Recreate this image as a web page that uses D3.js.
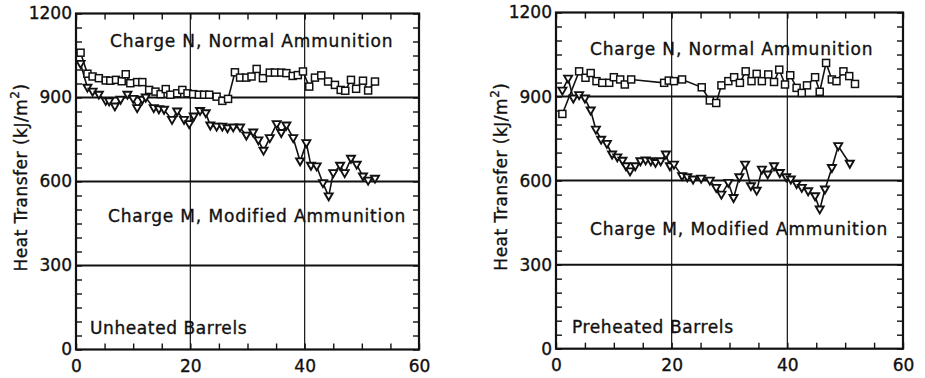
<!DOCTYPE html>
<html>
<head>
<meta charset="utf-8">
<script src="https://cdn.jsdelivr.net/npm/d3@7"></script>
<style>
  body { margin: 0; background: #fff; }
  text { font-family: "DejaVu Sans", "Liberation Sans", Arial, sans-serif; fill: #111; stroke: #111; stroke-width: 0.35px; }
</style>
</head>
<body>
<svg id="chart" width="925" height="378"></svg>
<script>
// rounds fired (x) and heat transfer (kJ/m^2)
const unheatedRoundsN = [0.8, 2.0, 2.9, 4.0, 5.2, 6.0, 7.0, 8.0, 8.7, 9.5, 10.7, 11.6, 12.8, 13.9, 14.8, 15.7, 16.5, 17.7, 18.6, 19.5, 20.5, 21.5, 22.4, 23.3, 24.6, 25.6, 26.6, 27.8, 28.7, 29.8, 30.7, 31.6, 32.7, 33.9, 34.8, 35.9, 36.8, 37.9, 38.8, 39.7, 40.8, 41.8, 42.9, 44.1, 45.3, 46.3, 47.1, 48.1, 49.0, 50.2, 51.1, 52.3];
const unheatedN = [1060, 985, 975, 969, 961, 960, 963, 958, 983, 951, 955, 955, 927, 921, 912, 930, 910, 915, 927, 915, 912, 910, 910, 910, 903, 888, 895, 990, 971, 971, 975, 1002, 969, 989, 989, 989, 987, 977, 980, 993, 939, 971, 979, 957, 945, 927, 924, 963, 931, 960, 925, 957];

const unheatedRoundsM = [0.8, 2.0, 2.9, 4.0, 5.2, 5.8, 6.8, 7.8, 9.0, 10.0, 10.7, 11.6, 12.2, 13.6, 14.5, 15.4, 16.8, 17.7, 18.9, 19.8, 20.6, 21.7, 22.7, 23.5, 24.6, 25.6, 26.5, 27.5, 28.7, 29.8, 31.0, 31.9, 32.8, 33.9, 35.1, 35.9, 36.8, 38.0, 39.2, 40.3, 41.1, 42.1, 43.2, 44.2, 45.0, 46.2, 47.0, 48.1, 49.1, 50.2, 51.1, 52.3];
const unheatedM = [1020, 935, 921, 910, 888, 886, 868, 892, 910, 895, 862, 892, 900, 862, 858, 856, 820, 850, 820, 805, 832, 852, 844, 800, 796, 796, 790, 793, 793, 764, 775, 747, 710, 755, 805, 773, 800, 755, 672, 737, 656, 654, 594, 547, 630, 656, 630, 681, 660, 618, 603, 610];

const preheatedRoundsN = [1.1, 4.0, 5.1, 6.0, 7.0, 8.0, 9.2, 10.0, 11.1, 11.9, 13.0, 18.7, 19.5, 20.4, 21.8, 25.2, 26.6, 27.7, 28.6, 29.8, 30.8, 31.8, 32.8, 33.8, 34.7, 35.6, 36.7, 37.7, 38.6, 39.6, 40.5, 41.6, 42.5, 43.4, 44.8, 45.6, 46.7, 47.7, 48.5, 49.7, 50.7, 51.7];
const preheatedN = [838, 990, 967, 984, 955, 949, 949, 969, 961, 943, 961, 949, 957, 955, 961, 933, 886, 877, 940, 955, 969, 949, 990, 955, 981, 955, 979, 952, 996, 943, 976, 931, 913, 940, 969, 917, 1020, 961, 955, 990, 973, 945];

const preheatedRoundsM = [1.1, 2.1, 3.0, 4.0, 5.0, 6.0, 6.9, 7.8, 8.8, 9.7, 10.6, 11.5, 12.1, 12.8, 13.7, 14.6, 15.5, 16.4, 17.2, 18.1, 19.0, 19.7, 20.4, 21.8, 22.7, 23.7, 25.1, 26.6, 27.7, 28.6, 29.8, 30.7, 31.7, 32.7, 33.7, 34.7, 35.6, 36.6, 37.7, 38.7, 39.8, 40.6, 41.6, 42.5, 43.6, 44.8, 45.6, 46.5, 47.7, 48.8, 50.8];
const preheatedM = [921, 964, 893, 905, 893, 850, 782, 746, 731, 693, 683, 671, 651, 633, 651, 669, 672, 669, 663, 669, 693, 651, 657, 616, 612, 604, 607, 600, 574, 550, 592, 538, 612, 657, 580, 564, 639, 622, 651, 627, 612, 604, 588, 574, 562, 544, 497, 568, 645, 723, 660];

const xTickLabels = [0, 20, 40, 60];
const yTickLabels = [0, 300, 600, 900, 1200];
const xGrid = [20, 40];
const yGrid = [300, 600, 900];

const svg = d3.select("#chart");

function drawPanel(p) {
  const x = d3.scaleLinear().domain([0, 60]).range([p.left, p.right]);
  const y = d3.scaleLinear().domain([0, 1200]).range([p.bottom, p.top]);
  const g = svg.append("g");

  g.selectAll(".hgrid").data(yGrid).join("line")
    .attr("x1", p.left).attr("x2", p.right)
    .attr("y1", d => y(d)).attr("y2", d => y(d))
    .attr("stroke", "#111").attr("stroke-width", 2);
  g.selectAll(".vgrid").data(xGrid).join("line")
    .attr("x1", d => x(d)).attr("x2", d => x(d))
    .attr("y1", p.top).attr("y2", p.bottom)
    .attr("stroke", "#111").attr("stroke-width", 1.2);

  const xMinor = d3.range(0, 61, 5);
  const yMinor = d3.range(0, 1201, 50);
  const fx = d => xTickLabels.includes(d) ? d : "";
  const fy = d => yTickLabels.includes(d) ? d : "";

  const axes = [
    g.append("g").attr("transform", `translate(${p.left},0)`)
      .call(d3.axisLeft(y).tickValues(yMinor).tickSize(-6).tickSizeOuter(0).tickPadding(4).tickFormat(fy)),
    g.append("g").attr("transform", `translate(${p.right},0)`)
      .call(d3.axisRight(y).tickValues(yMinor).tickSize(-6).tickSizeOuter(0).tickFormat("")),
    g.append("g").attr("transform", `translate(0,${p.bottom})`)
      .call(d3.axisBottom(x).tickValues(xMinor).tickSize(-6).tickSizeOuter(0).tickPadding(10).tickFormat(fx)),
    g.append("g").attr("transform", `translate(0,${p.top})`)
      .call(d3.axisTop(x).tickValues(xMinor).tickSize(-6).tickSizeOuter(0).tickFormat(""))
  ];
  axes.forEach(a => {
    a.select(".domain").remove();
    a.selectAll(".tick line").attr("stroke", "#111").attr("stroke-width", 1.4);
    a.selectAll("text").attr("font-size", 17).attr("fill", "#111")
      .style("font-family", '"DejaVu Sans", Arial, sans-serif');
  });

  g.append("rect")
    .attr("x", p.left).attr("y", p.top)
    .attr("width", p.right - p.left).attr("height", p.bottom - p.top)
    .attr("fill", "none").attr("stroke", "#111").attr("stroke-width", 2.2);

  // y axis title
  const yt = g.append("text")
    .attr("transform", `translate(${p.left - 49},${(p.top + p.bottom) / 2 - 4}) rotate(-90)`)
    .attr("text-anchor", "middle")
    .attr("font-size", 17)
    .attr("letter-spacing", 0.5);
  yt.append("tspan").text("Heat Transfer (kJ/m");
  yt.append("tspan").attr("dy", -8).attr("font-size", 12).text("2");
  yt.append("tspan").attr("dy", 8).text(")");

  const line = d3.line().x(d => x(d[0])).y(d => y(d[1]));
  const nPts = d3.zip(p.roundsN, p.valuesN);
  const mPts = d3.zip(p.roundsM, p.valuesM);

  [nPts, mPts].forEach(pts => {
    g.append("path").datum(pts)
      .attr("d", line).attr("fill", "none")
      .attr("stroke", "#111").attr("stroke-width", 1.6);
  });

  g.selectAll(".tri").data(mPts).join("path")
    .attr("d", d => {
      const cx = x(d[0]), cy = y(d[1]);
      return `M${cx - 4},${cy - 3}L${cx + 4},${cy - 3}L${cx},${cy + 4}Z`;
    })
    .attr("fill", "#fff").attr("stroke", "#111").attr("stroke-width", 1.9);

  g.selectAll(".sq").data(nPts).join("rect")
    .attr("x", d => x(d[0]) - 3.5).attr("y", d => y(d[1]) - 3.5)
    .attr("width", 7).attr("height", 7)
    .attr("fill", "#fff").attr("stroke", "#111").attr("stroke-width", 1.5);

  p.notes.forEach(n => {
    g.append("text")
      .attr("x", p.left + n.dx).attr("y", p.top + n.dy)
      .attr("font-size", 17).attr("letter-spacing", n.ls)
      .text(n.text);
  });
}

drawPanel({
  left: 76, right: 419, top: 13.5, bottom: 349.5,
  roundsN: unheatedRoundsN, valuesN: unheatedN,
  roundsM: unheatedRoundsM, valuesM: unheatedM,
  notes: [
    { text: "Charge N, Normal Ammunition", dx: 34, dy: 33, ls: 0.85 },
    { text: "Charge M, Modified Ammunition", dx: 32, dy: 208, ls: 0.85 },
    { text: "Unheated Barrels", dx: 14, dy: 320, ls: 0.6 }
  ]
});

drawPanel({
  left: 556, right: 903, top: 12.5, bottom: 348.7,
  roundsN: preheatedRoundsN, valuesN: preheatedN,
  roundsM: preheatedRoundsM, valuesM: preheatedM,
  notes: [
    { text: "Charge N, Normal Ammunition", dx: 34, dy: 42, ls: 0.85 },
    { text: "Charge M, Modified Ammunition", dx: 34, dy: 222, ls: 0.85 },
    { text: "Preheated Barrels", dx: 16, dy: 320, ls: 0.6 }
  ]
});
</script>
</body>
</html>
